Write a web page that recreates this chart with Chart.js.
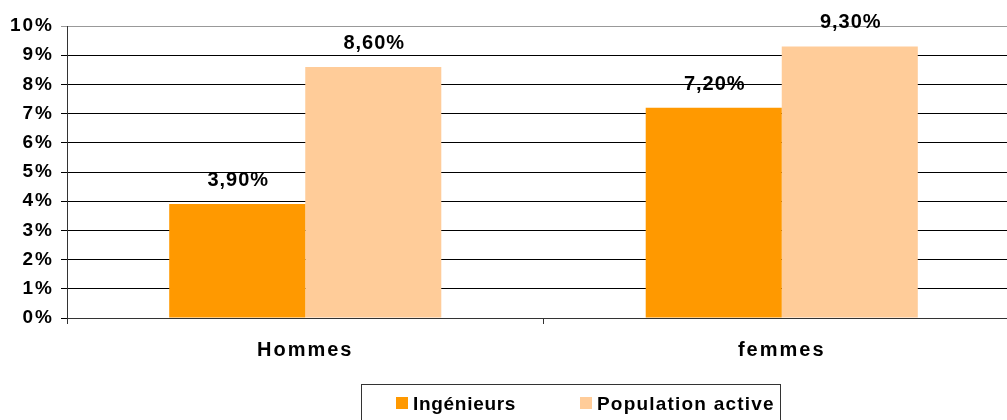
<!DOCTYPE html>
<html>
<head>
<meta charset="utf-8">
<script src="https://cdn.jsdelivr.net/npm/chart.js@4/dist/chart.umd.min.js"></script>
<style>
  body { margin: 0; overflow: hidden; background: #fff; width: 1007px; height: 420px; position: relative; }
  #wrap { position: absolute; left: 0; top: 0; width: 1020px; height: 420px; }
  #legend {
    position: absolute; left: 361px; top: 384px; width: 420px; height: 40px;
    border: 1px solid #333; box-sizing: border-box;
    font: bold 19px "Liberation Sans", Arial, sans-serif; color: #000;
  }
  #legend .item { position: absolute; top: 8px; white-space: nowrap; }
  #legend .name { letter-spacing: 0.7px; }
  #legend .item + .item .name { letter-spacing: 1.2px; }
  #legend .box { display: inline-block; width: 12px; height: 12px; margin-right: 5px; vertical-align: 1px; }
</style>
</head>
<body>
<div id="wrap"><canvas id="barChart" width="1020" height="420"></canvas></div>
<div id="legend"></div>
<script>
const categories = ['Hommes', 'femmes'];
const seriesNames = ['Ingénieurs', 'Population active'];
const ingenieurs = [3.9, 7.2];
const populationActive = [8.6, 9.3];
const yTicks = [0, 1, 2, 3, 4, 5, 6, 7, 8, 9, 10];
const colors = ['#FF9900', '#FFCC99'];

const fontFamily = '"Liberation Sans", Arial, sans-serif';

function fmt(v) {
  return v.toFixed(2).replace('.', ',') + '%';
}

// wider letters on axis labels, like the original export
const axisSpacing = {
  id: 'axisSpacing',
  beforeDraw(chart) { chart.ctx.letterSpacing = '2px'; },
  beforeDatasetsDraw(chart) { chart.ctx.letterSpacing = '0px'; }
};

// value labels above bars
const valueLabels = {
  id: 'valueLabels',
  afterDatasetsDraw(chart) {
    const ctx = chart.ctx;
    ctx.save();
    ctx.letterSpacing = '1px';
    ctx.font = 'bold 20px ' + fontFamily;
    ctx.fillStyle = '#000';
    ctx.textAlign = 'center';
    ctx.textBaseline = 'alphabetic';
    chart.data.datasets.forEach((ds, i) => {
      chart.getDatasetMeta(i).data.forEach((bar, j) => {
        ctx.fillText(fmt(ds.data[j]), bar.x + 1, bar.y - 18);
      });
    });
    ctx.restore();
  }
};

function draw() {
  const data = {
    labels: categories,
    datasets: [
      { label: seriesNames[0], data: ingenieurs, backgroundColor: colors[0], borderWidth: 0 },
      { label: seriesNames[1], data: populationActive, backgroundColor: colors[1], borderWidth: 0 },
    ],
  };

  new Chart(document.getElementById('barChart'), {
    type: 'bar',
    data: data,
    plugins: [axisSpacing, valueLabels],
    options: {
      responsive: false,
      animation: false,
      layout: { padding: { top: 26, right: 0, bottom: 0, left: 0 } },
      datasets: { bar: { categoryPercentage: 0.571, barPercentage: 1 } },
      plugins: { legend: { display: false }, tooltip: { enabled: false } },
      scales: {
        x: {
          afterFit(scale) { scale.height = 102; },
          grid: { drawOnChartArea: false, drawTicks: true, tickLength: 6, color: '#333', offset: true },
          border: { color: '#333', width: 1 },
          ticks: { color: '#000', padding: 14, font: { family: fontFamily, size: 20, weight: 'bold' } },
        },
        y: {
          min: 0,
          max: 10,
          afterFit(scale) { scale.width = 67; },
          afterBuildTicks(scale) { scale.ticks = yTicks.map(v => ({ value: v })); },
          grid: {
            color: ctx => (ctx.tick && ctx.tick.value === 10 ? '#999' : '#000'),
            lineWidth: 1,
            tickLength: 6,
          },
          border: { color: '#333', width: 1 },
          ticks: {
            color: '#000',
            padding: 7,
            font: { family: fontFamily, size: 19, weight: 'bold' },
            callback: v => v + '%',
          },
        },
      },
    },
  });

  const legend = document.getElementById('legend');
  const lefts = [34, 218];
  seriesNames.forEach((name, i) => {
    const item = document.createElement('span');
    item.className = 'item';
    item.style.left = lefts[i] + 'px';
    item.innerHTML = '<span class="box" style="background:' + colors[i] + '"></span><span class="name">' + name + '</span>';
    legend.appendChild(item);
  });
}

draw();
</script>
</body>
</html>
